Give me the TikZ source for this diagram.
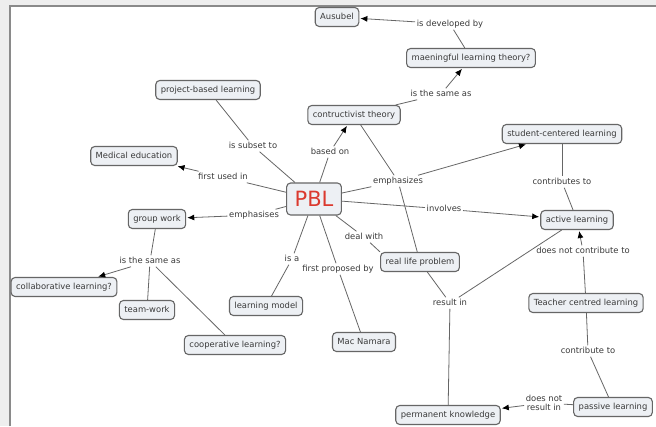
\documentclass[tikz,border=0pt]{standalone}
\usepackage{fontspec}
\newfontfamily\cmfont{DejaVu Sans}
\usetikzlibrary{arrows.meta}
\definecolor{bgout}{HTML}{EEEEEE}
\definecolor{frameline}{HTML}{8A8A8A}
\definecolor{boxfill}{HTML}{EDF0F4}
\definecolor{boxline}{HTML}{666666}
\definecolor{txt}{HTML}{3A3A3A}
\definecolor{conn}{HTML}{666666}
\definecolor{pblred}{HTML}{DB3A2F}
\tikzset{
  concept/.style={draw=boxline, line width=1.1pt, rounded corners=4pt, fill=boxfill,
    inner xsep=5pt, inner ysep=0pt, minimum height=19pt, text height=6.3pt, text depth=1.8pt,
    font=\cmfont\fontsize{8.4}{10}\selectfont, text=txt},
  linkph/.style={inner sep=1.5pt, text height=6.3pt, text depth=1.8pt,
    font=\cmfont\fontsize{8.4}{10}\selectfont, text=txt},
  linkph2/.style={inner sep=1.5pt, align=center,
    font=\cmfont\fontsize{8.4}{9.6}\selectfont, text=txt},
  conline/.style={draw=conn, line width=0.8pt},
  arr/.style={conline, -{Latex[length=7pt,width=6pt,color=black]}, shorten >=1pt},
}
\begin{document}
\begin{tikzpicture}[x=1pt,y=-1pt]
\useasboundingbox (0,0) rectangle (656,426);
\fill[bgout] (0,0) rectangle (656,426);
\fill[white] (10,6) rectangle (656,426);
\draw[frameline, line width=1.5pt] (10,426) -- (10,6) -- (656,6);

% concepts
\node[concept] (aus) at (337,17) {Ausubel};
\node[concept] (mlt) at (471,58) {maeningful learning theory?};
\node[concept] (pjb) at (208,90) {project-based learning};
\node[concept] (con) at (354,115) {contructivist theory};
\node[concept] (scl) at (562,134) {student-centered learning};
\node[concept] (med) at (134,156) {Medical education};
\node[concept] (grp) at (157,219) {group work};
\node[concept] (act) at (577,220) {active learning};
\node[concept] (rlp) at (420,262) {real life problem};
\node[concept] (col) at (64,287) {collaborative learning?};
\node[concept] (tmw) at (147,310) {team-work};
\node[concept] (lmo) at (266,306) {learning model};
\node[concept] (tcl) at (586,303) {Teacher centred learning};
\node[concept] (coo) at (235,345) {cooperative learning?};
\node[concept] (mac) at (364,342) {Mac Namara};
\node[concept] (pkn) at (448,415) {permanent knowledge};
\node[concept] (pas) at (613,407) {passive learning};
\node[concept, font=\cmfont\fontsize{21}{24}\selectfont, text=pblred, inner xsep=8pt,
  minimum height=32pt, text height=15.5pt, text depth=0pt] (pbl) at (314,199) {PBL};

% linking phrases
\node[linkph] (ldev) at (450,24) {is developed by};
\node[linkph] (lsame1) at (441,94) {is the same as};
\node[linkph] (lsub) at (253,146) {is subset to};
\node[linkph] (lbase) at (330,152) {based on};
\node[linkph] (lfirst) at (223,177) {first used in};
\node[linkph] (lemph1) at (398,181) {emphasizes};
\node[linkph] (lemph2) at (254,215) {emphasises};
\node[linkph] (linv) at (444,209) {involves};
\node[linkph] (lcontr) at (562,182) {contributes to};
\node[linkph] (lsame2) at (150,261) {is the same as};
\node[linkph] (lisa) at (292,259) {is a};
\node[linkph] (lfpb) at (338,269) {first proposed by};
\node[linkph] (ldeal) at (364,237) {deal with};
\node[linkph] (ldnc) at (583,251) {does not contribute to};
\node[linkph] (lres) at (450,303) {result in};
\node[linkph] (lcto) at (588,351) {contribute to};
\node[linkph2] (ldnr) at (544,403) {does not\\result in};

% connectors
\draw[conline] (mlt) -- (ldev);
\draw[arr] (ldev) -- (aus);
\draw[conline] (con) -- (lsame1);
\draw[arr] (lsame1) -- (mlt);
\draw[conline] (pbl) -- (lsub);
\draw[conline] (lsub) -- (pjb);
\draw[conline] (pbl) -- (lbase);
\draw[arr] (lbase) -- (con);
\draw[conline] (pbl) -- (lfirst);
\draw[arr] (lfirst) -- (med);
\draw[conline] (pbl) -- (lemph2);
\draw[arr] (lemph2) -- (grp);
\draw[conline] (pbl) -- (lemph1);
\draw[conline] (con) -- (lemph1);
\draw[arr] (lemph1) -- (scl);
\draw[conline] (lemph1) -- (rlp);
\draw[conline] (pbl) -- (linv);
\draw[arr] (linv) -- (act);
\draw[conline] (pbl) -- (ldeal);
\draw[conline] (ldeal) -- (rlp.north west);
\draw[conline] (pbl) -- (lisa);
\draw[conline] (lisa) -- (lmo);
\draw[conline] (pbl) -- (lfpb);
\draw[conline] (lfpb) -- (mac);
\draw[conline] (grp) -- (lsame2);
\draw[arr] (lsame2) -- (col);
\draw[conline] (lsame2) -- (tmw);
\draw[conline] (lsame2) -- (coo);
\draw[conline] (scl) -- (lcontr);
\draw[conline] (lcontr) -- (act);
\draw[conline] (tcl) -- (ldnc);
\draw[arr] (ldnc) -- (act);
\draw[conline] (tcl) -- (lcto);
\draw[conline] (lcto) -- (pas);
\draw[conline] (pas) -- (ldnr);
\draw[arr] (ldnr) -- (pkn);
\draw[conline] (rlp) -- (lres);
\draw[conline] (lres) -- (act);
\draw[conline] (lres) -- (pkn);
\end{tikzpicture}
\end{document}
